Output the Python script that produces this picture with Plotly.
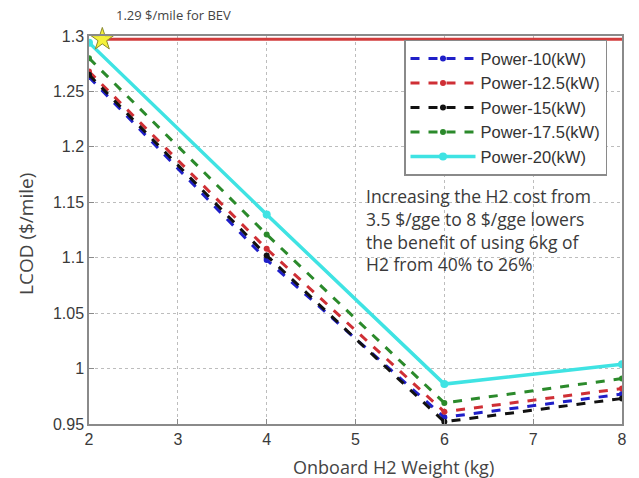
import math
import plotly.graph_objects as go

# Onboard hydrogen weight (kg)
h2_weight = [2, 4, 6, 8]

# Levelized cost of driving ($/mile) for each fuel-cell power rating
lcod_p10 = [1.263, 1.098, 0.956, 0.977]
lcod_p125 = [1.268, 1.108, 0.961, 0.982]
lcod_p15 = [1.265, 1.102, 0.952, 0.973]
lcod_p175 = [1.280, 1.121, 0.969, 0.991]
lcod_p20 = [1.294, 1.139, 0.986, 1.004]

series_names = ["Power-10(kW)", "Power-12.5(kW)", "Power-15(kW)",
                "Power-17.5(kW)", "Power-20(kW)"]
series_colors = ["#1f1fc8", "#cf2f35", "#111111", "#2b8a2b", "#3fe3e3"]

# Battery electric vehicle reference cost
bev_cost = 1.297
bev_x = [2.15, 8.0]

x_ticks = [2, 3, 4, 5, 6, 7, 8]
y_ticks = [0.95, 1.0, 1.05, 1.1, 1.15, 1.2, 1.25, 1.3]
y_tick_text = ["0.95", "1", "1.05", "1.1", "1.15", "1.2", "1.25", "1.3"]

fig = go.Figure()

# BEV cost line
fig.add_trace(go.Scatter(
    x=bev_x, y=[bev_cost, bev_cost], mode="lines",
    line=dict(color="#d23c3c", width=3), showlegend=False, hoverinfo="skip",
))

all_series = [lcod_p10, lcod_p125, lcod_p15, lcod_p175, lcod_p20]
for name, color, vals in zip(series_names, series_colors, all_series):
    solid = name == "Power-20(kW)"
    fig.add_trace(go.Scatter(
        x=h2_weight, y=vals, mode="lines+markers", name=name,
        line=dict(color=color, width=3.5 if solid else 3,
                  dash="solid" if solid else "dash"),
        marker=dict(color=color, size=8 if solid else 6, symbol="circle"),
    ))

# BEV marker star
fig.add_trace(go.Scatter(
    x=[bev_x[0]], y=[bev_cost], mode="markers", showlegend=False,
    marker=dict(symbol="star", size=17, color="#f5f03a",
                line=dict(color="#8a8a30", width=1)),
    hoverinfo="skip", cliponaxis=False,
))

bev_label = f"{math.floor(bev_cost * 100) / 100:.2f} $/mile for BEV"
fig.add_annotation(
    x=2.28, y=1.3, xref="x", yref="y", yshift=21, xanchor="left",
    text=bev_label, showarrow=False,
    font=dict(family="Open Sans", size=13, color="#444444"),
)

# Note about hydrogen cost sensitivity
fig.add_annotation(
    x=5.1, y=1.125, xref="x", yref="y", showarrow=False,
    xanchor="left", yanchor="middle", align="left",
    text=("Increasing the H2 cost from<br>3.5 $/gge to 8 $/gge lowers<br>"
          "the benefit of using 6kg of<br>H2 from 40% to 26%"),
    font=dict(family="Open Sans", size=17.5, color="#3a3a3a"),
)

# Axis titles
fig.add_annotation(
    x=0.572, y=-0.112, xref="paper", yref="paper", showarrow=False,
    xanchor="center", yanchor="middle", text="Onboard H2 Weight (kg)",
    font=dict(family="Open Sans", size=18, color="#444444"),
)
fig.add_annotation(
    x=-0.118, y=0.49, xref="paper", yref="paper", showarrow=False,
    xanchor="center", yanchor="middle", text="LCOD ($/mile)", textangle=-90,
    font=dict(family="Open Sans", size=19, color="#444444"),
)

axis_common = dict(
    showline=True, linecolor="#8a8a8a", linewidth=1.5, mirror=True,
    showgrid=True, gridcolor="#bdbdbd", griddash="dot", gridwidth=1,
    ticks="inside", ticklen=5, tickcolor="#8a8a8a", zeroline=False,
    tickfont=dict(family="Arial", size=16, color="#3a3a3a"),
)

fig.update_xaxes(range=[2, 8], tickvals=x_ticks, **axis_common)
fig.update_yaxes(range=[0.95, 1.3], tickvals=y_ticks, ticktext=y_tick_text,
                 **axis_common)

fig.update_layout(
    width=639, height=478,
    margin=dict(l=89, r=12, t=36, b=54),
    plot_bgcolor="white", paper_bgcolor="white",
    legend=dict(
        x=0.591, y=0.99, xanchor="left", yanchor="top",
        bgcolor="white", bordercolor="#8a8a8a", borderwidth=1.5,
        font=dict(family="Arial", size=16.5, color="#333333"),
        tracegroupgap=0, itemwidth=65,
    ),
)

fig.write_html("out.html")
